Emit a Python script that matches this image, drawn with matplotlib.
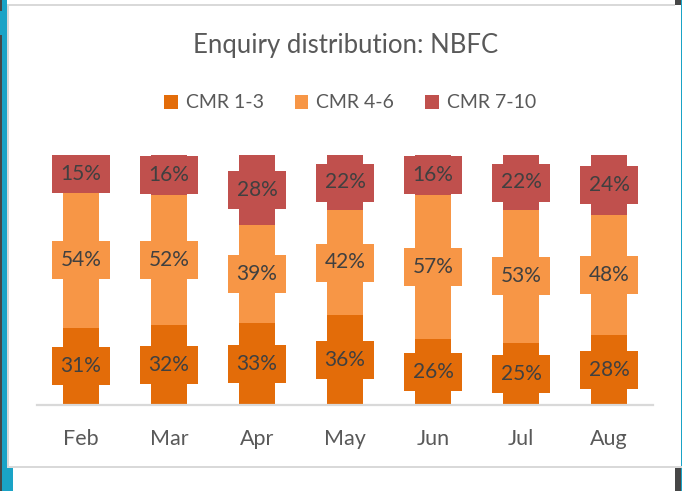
import matplotlib
matplotlib.use("Agg")
import matplotlib.pyplot as plt
from matplotlib.patches import Rectangle
import numpy as np

months = ["Feb", "Mar", "Apr", "May", "Jun", "Jul", "Aug"]
cmr_1_3 = [31, 32, 33, 36, 26, 25, 28]
cmr_4_6 = [54, 52, 39, 42, 57, 53, 48]
cmr_7_10 = [15, 16, 28, 22, 16, 22, 24]
series_names = ["CMR 1-3", "CMR 4-6", "CMR 7-10"]
colors = ["#E36C09", "#F79646", "#C0504D"]

W, H = 682, 491
plt.rcParams['font.family'] = ['Lato', 'DejaVu Sans']
fig = plt.figure(figsize=(W / 100, H / 100), dpi=100)
fig.patch.set_facecolor("white")

def px_rect(x0, y0, x1, y1, color, z=0):
    fig.add_artist(Rectangle((x0 / W, 1 - y1 / H), (x1 - x0) / W, (y1 - y0) / H,
                             transform=fig.transFigure, facecolor=color,
                             edgecolor="none", zorder=z))

teal = "#1AA3C6"
dark = "#474747"
border = "#D9D9D9"
# outer decoration
px_rect(0, 0, 7, H, teal)
px_rect(0, 467, 13, H, teal)
px_rect(0, 0, 2, 11, dark)
px_rect(0, 35, 2, H, dark)
px_rect(675, 0, 681, 5, dark)
px_rect(675, 468, 681, H, dark)
px_rect(681, 0, 682, H, teal)
# panel border
px_rect(7, 4, 675, 6, border, z=1)
px_rect(7, 4, 9, 468, border, z=1)
px_rect(7, 466, 682, 468, border, z=1)

ax = fig.add_axes([37 / W, 86 / H, 616 / W, 250 / H])
ax.set_facecolor("none")

data = np.array([cmr_1_3, cmr_4_6, cmr_7_10], dtype=float)
frac = data / data.sum(axis=0)
x = np.arange(len(months))
bottom = np.zeros(len(months))
box_w = 0.66
box_h = 0.152
for k in range(3):
    ax.bar(x, frac[k], 0.4, bottom=bottom, color=colors[k], label=series_names[k],
           zorder=2, edgecolor="none")
    centers = bottom + frac[k] / 2
    for i in range(len(months)):
        ax.add_patch(Rectangle((x[i] - box_w / 2, centers[i] - box_h / 2), box_w, box_h,
                               facecolor=colors[k], edgecolor="none", zorder=3))
        ax.text(x[i], centers[i], f"{int(data[k][i])}%", ha="center", va="center",
                fontsize=15, color="#404040", zorder=4)
    bottom = bottom + frac[k]

ax.set_xlim(-0.5, len(months) - 0.5)
ax.set_ylim(0, 1)
for s in ["top", "right", "left"]:
    ax.spines[s].set_visible(False)
ax.spines["bottom"].set_color(border)
ax.spines["bottom"].set_linewidth(1.6)
ax.set_yticks([])
ax.set_xticks(x)
ax.set_xticklabels(months, fontsize=15.5, color="#595959")
ax.tick_params(axis="x", length=0, pad=17)

fig.text(346 / W, 1 - 45 / H, "Enquiry distribution: NBFC", ha="center", va="center",
         fontsize=18.5, color="#595959")
fig.legend(loc="center", bbox_to_anchor=(350 / W, 1 - 103 / H), ncol=3, frameon=False,
           fontsize=14, labelcolor="#595959", handlelength=0.7, handleheight=0.7,
           handletextpad=0.4, columnspacing=1.6)

fig.savefig("out.png", dpi=100, facecolor="white")
